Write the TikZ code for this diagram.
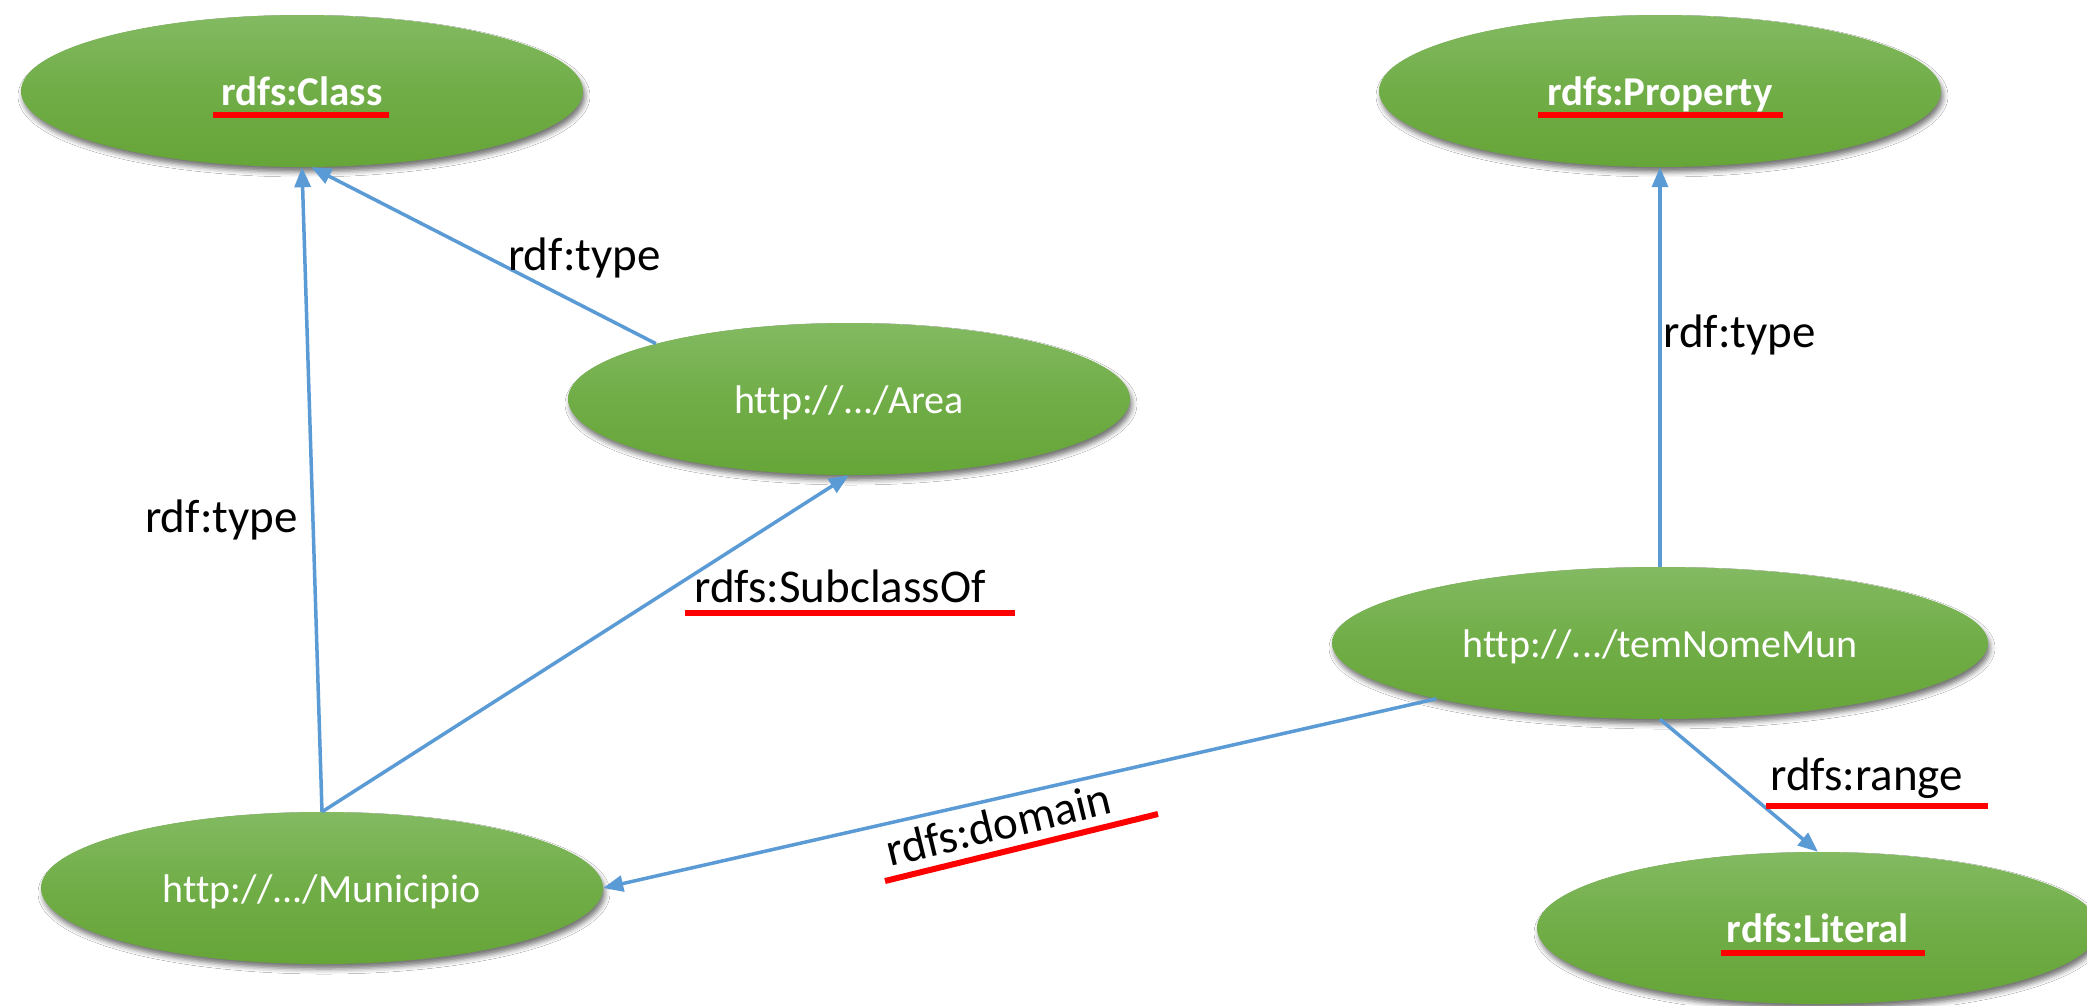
\documentclass[tikz,border=0pt]{standalone}
\usepackage{fontspec}
\setmainfont{Carlito}[Ligatures={NoCommon}]
\usetikzlibrary{shapes.geometric,arrows.meta,shadows.blur}
\definecolor{gtop}{HTML}{83BA62}
\definecolor{gmid}{HTML}{70AD47}
\definecolor{gbot}{HTML}{66A538}
\definecolor{edgeblue}{HTML}{5B9BD5}
\begin{document}
\begin{tikzpicture}[x=1pt,y=-1pt,
  ent/.style={ellipse, minimum width=562pt, minimum height=152pt, inner sep=0pt,
    top color=gtop, bottom color=gbot, middle color=gmid, draw=none, text=white,
    text height=28pt, text depth=0pt,
    font=\fontsize{40}{48}\selectfont,
    blur shadow={shadow xshift=2pt, shadow yshift=-5pt, shadow blur radius=5pt, shadow opacity=55}},
  bent/.style={ent, font=\bfseries\fontsize{41}{48}\selectfont},
  rel/.style={draw=edgeblue, line width=3.5pt, -{Triangle[length=20pt,width=16pt]}},
  lbl/.style={font=\fontsize{47}{56}\selectfont, inner sep=0pt, anchor=base west},
  ul/.style={draw=red, line width=6pt}]
\path[use as bounding box, fill=white] (0,0) rectangle (2087,1005);

% entities
\node[bent] (cls) at (302,91) {rdfs:Class};
\node[bent] (prop) at (1660,91) {rdfs:Property};
\node[ent] (area) at (849,399) {http://.../Area};
\node[ent, minimum width=656pt] (tem) at (1660,643) {http://.../temNomeMun};
\node[ent] (mun) at (322,888) {http://.../Municipio};
\node[bent] (lit) at (1818,928) {rdfs:Literal};

% connectors
\draw[rel] (mun.north) -- (cls.south);
\draw[rel] (area.164.3) -- (cls.-83);
\draw[rel] (mun.north) -- (area.south);
\draw[rel] (tem.north) -- (prop.south);
\draw[rel] (tem.-166.9) -- (mun.east);
\draw[rel] (tem.south) -- (lit.north);

% edge labels
\node[lbl] (t1) at (508,270) {rdf:type};
\node[lbl] (t2) at (145,532) {rdf:type};
\node[lbl] (t3) at (1663,347) {rdf:type};
\node[lbl] (sub) at (694,602) {rdfs:SubclassOf};
\node[lbl] (rng) at (1770,790) {rdfs:range};
\node[lbl, rotate=13.6] (dom) at (890,867) {rdfs:domain};

% red underlines
\draw[ul] (213,115) -- (389,115);
\draw[ul] (1538,115) -- (1783,115);
\draw[ul] (1721,953) -- (1925,953);
\draw[ul] (685,613) -- (1015,613);
\draw[ul] (1766,806) -- (1988,806);
\draw[ul] (885,881) -- (1158,814);
\end{tikzpicture}
\end{document}
